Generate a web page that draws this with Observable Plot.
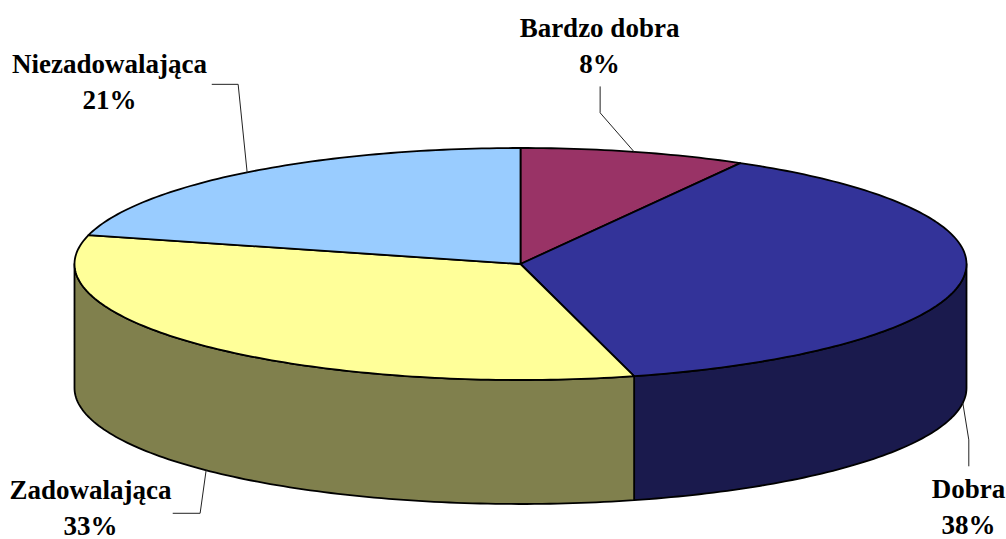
<!DOCTYPE html>
<html lang="pl">
<head>
<meta charset="utf-8">
<script src="https://cdn.jsdelivr.net/npm/d3@7"></script>
<script src="https://cdn.jsdelivr.net/npm/@observablehq/plot@0.6"></script>
<style>html,body{margin:0;padding:0;background:#fff}svg{display:block}</style>
</head>
<body>
<div id="chart"></div>
<script>
// Data
const categories = ["Bardzo dobra", "Dobra", "Zadowalająca", "Niezadowalająca"];
const percents = [8, 38, 33, 21];          // as printed on the labels
const shares = [8.2, 37.7, 33.1, 21.0];    // slice sizes

// Styles
const topColors = ["#993366", "#333399", "#FFFF99", "#99CCFF"];
const sideColors = ["#804D66", "#1A1A4D", "#80804D", "#4D6680"];

// Layout of the tilted pie, in plot units
const W = 1006, H = 539;
const cx = 520, cy = 263.5, rx = 446, ry = 116, depth = 124;
// Per category: leader elbow and tail relative to slice midpoint on the rim, label centre and baseline
const leaderOffsets = [
  [[-34, -39], [-34, -65]],
  [[6, 37], [6, 63]],
  [[-6, 43], [-33, 43]],
  [[-9, -88], [-35, -88]]
];
const labelAnchors = [
  {x: 599, y: 36},
  {x: 968, y: 497},
  {x: 90, y: 498},
  {x: 109, y: 72}
];
const lineGap = 36;

// Geometry built from the data
const rim = (deg, drop = 0) => {
  const t = deg * Math.PI / 180;
  return {x: cx + rx * Math.sin(t), y: cy - ry * Math.cos(t) + drop};
};
let acc = 0;
const slices = categories.map((name, i) => {
  const a0 = acc * 3.6; acc += shares[i];
  return {name, a0, a1: acc * 3.6, mid: (a0 + acc * 3.6) / 2};
});
const arc = (a0, a1, drop = 0) => {
  const n = Math.max(1, Math.ceil(Math.abs(a1 - a0)));
  return d3.range(n + 1).map(k => rim(a0 + (a1 - a0) * k / n, drop));
};

const topPts = slices.flatMap(s => {
  const c = {x: cx, y: cy};
  return [c, ...arc(s.a0, s.a1), c].map(p => ({...p, name: s.name}));
});
const sidePts = slices.flatMap(s => {
  const a0 = Math.max(s.a0, 90), a1 = Math.min(s.a1, 270);
  if (a1 <= a0) return [];
  const up = arc(a0, a1), down = arc(a1, a0, depth);
  return [...up, ...down, up[0]].map(p => ({...p, name: s.name}));
});
const leaders = slices.flatMap((s, i) => {
  const p = rim(s.mid, s.mid > 90 && s.mid < 270 ? depth : 0);
  return [p, ...leaderOffsets[i].map(([dx, dy]) => ({x: p.x + dx, y: p.y + dy}))]
    .map(q => ({...q, name: s.name}));
});
const labels = categories.flatMap((name, i) => [
  {text: name, x: labelAnchors[i].x, y: labelAnchors[i].y},
  {text: percents[i] + "%", x: labelAnchors[i].x, y: labelAnchors[i].y + lineGap}
]);

const chart = Plot.plot({
  width: W, height: H,
  marginTop: 0, marginRight: 0, marginBottom: 0, marginLeft: 0,
  style: {background: "#fff", fontFamily: "'Liberation Serif', serif"},
  x: {domain: [0, W], range: [0, W], axis: null},
  y: {domain: [0, H], range: [0, H], axis: null},
  marks: [
    ...[0, 1, 2, 3].filter(i => sidePts.some(p => p.name === categories[i])).map(i =>
      Plot.line(sidePts.filter(p => p.name === categories[i]), {
        x: "x", y: "y", fill: sideColors[i], stroke: "#000", strokeWidth: 1.8
      })),
    ...[0, 1, 2, 3].map(i =>
      Plot.line(topPts.filter(p => p.name === categories[i]), {
        x: "x", y: "y", fill: topColors[i], stroke: "#000", strokeWidth: 1.8
      })),
    Plot.line(leaders, {x: "x", y: "y", z: "name", stroke: "#222", strokeWidth: 1}),
    Plot.text(labels, {
      x: "x", y: "y", text: "text", textAnchor: "middle", lineAnchor: "bottom",
      fontSize: 27, fontWeight: "bold", fill: "#000"
    })
  ]
});
document.getElementById("chart").append(chart);
</script>
</body>
</html>
